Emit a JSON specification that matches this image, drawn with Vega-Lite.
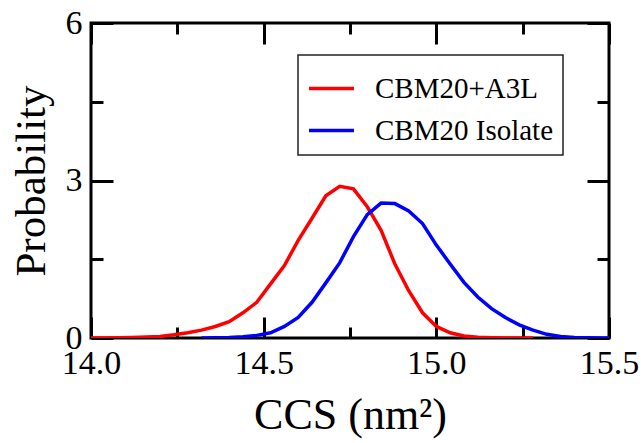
{
  "$schema": "https://vega.github.io/schema/vega-lite/v6.json",
  "width": 518,
  "height": 315,
  "autosize": {"type": "none"},
  "padding": {"left": 91, "top": 23, "right": 35, "bottom": 105},
  "background": "white",
  "config": {
    "view": {"stroke": "black", "strokeWidth": 3},
    "font": "Liberation Serif",
    "axis": {"domain": false, "grid": false, "tickColor": "black", "tickWidth": 3, "labelColor": "black", "titleColor": "black", "labelFont": "Liberation Serif", "titleFont": "Liberation Serif", "titleFontWeight": "normal", "labelFlush": false, "labelOverlap": false, "labelBound": false},
    "legend": {"labelFont": "Liberation Serif", "labelFontSize": 29, "labelColor": "black", "strokeColor": "#222222", "strokeWidth": 1.5, "fillColor": "white", "padding": 9, "cornerRadius": 0, "symbolType": "stroke", "symbolSize": 2025, "symbolStrokeWidth": 3.5, "labelOffset": 19, "rowPadding": 2, "labelLimit": 400}
  },
  "data": {"values": [
    {"x": 14.00, "p": 0, "series": "CBM20+A3L"},
    {"x": 14.04, "p": 0, "series": "CBM20+A3L"},
    {"x": 14.08, "p": 0.005, "series": "CBM20+A3L"},
    {"x": 14.12, "p": 0.01, "series": "CBM20+A3L"},
    {"x": 14.16, "p": 0.02, "series": "CBM20+A3L"},
    {"x": 14.20, "p": 0.03, "series": "CBM20+A3L"},
    {"x": 14.24, "p": 0.06, "series": "CBM20+A3L"},
    {"x": 14.28, "p": 0.10, "series": "CBM20+A3L"},
    {"x": 14.32, "p": 0.15, "series": "CBM20+A3L"},
    {"x": 14.36, "p": 0.22, "series": "CBM20+A3L"},
    {"x": 14.40, "p": 0.31, "series": "CBM20+A3L"},
    {"x": 14.44, "p": 0.48, "series": "CBM20+A3L"},
    {"x": 14.48, "p": 0.68, "series": "CBM20+A3L"},
    {"x": 14.52, "p": 1.03, "series": "CBM20+A3L"},
    {"x": 14.56, "p": 1.38, "series": "CBM20+A3L"},
    {"x": 14.60, "p": 1.86, "series": "CBM20+A3L"},
    {"x": 14.64, "p": 2.28, "series": "CBM20+A3L"},
    {"x": 14.68, "p": 2.71, "series": "CBM20+A3L"},
    {"x": 14.72, "p": 2.89, "series": "CBM20+A3L"},
    {"x": 14.76, "p": 2.84, "series": "CBM20+A3L"},
    {"x": 14.80, "p": 2.50, "series": "CBM20+A3L"},
    {"x": 14.84, "p": 2.05, "series": "CBM20+A3L"},
    {"x": 14.88, "p": 1.41, "series": "CBM20+A3L"},
    {"x": 14.92, "p": 0.90, "series": "CBM20+A3L"},
    {"x": 14.96, "p": 0.48, "series": "CBM20+A3L"},
    {"x": 15.00, "p": 0.22, "series": "CBM20+A3L"},
    {"x": 15.04, "p": 0.10, "series": "CBM20+A3L"},
    {"x": 15.08, "p": 0.04, "series": "CBM20+A3L"},
    {"x": 15.12, "p": 0.015, "series": "CBM20+A3L"},
    {"x": 15.16, "p": 0.005, "series": "CBM20+A3L"},
    {"x": 15.20, "p": 0, "series": "CBM20+A3L"},
    {"x": 15.24, "p": 0, "series": "CBM20+A3L"},
    {"x": 15.28, "p": 0, "series": "CBM20+A3L"},
    {"x": 14.32, "p": 0, "series": "CBM20 Isolate"},
    {"x": 14.36, "p": 0.005, "series": "CBM20 Isolate"},
    {"x": 14.40, "p": 0.01, "series": "CBM20 Isolate"},
    {"x": 14.44, "p": 0.025, "series": "CBM20 Isolate"},
    {"x": 14.48, "p": 0.05, "series": "CBM20 Isolate"},
    {"x": 14.52, "p": 0.10, "series": "CBM20 Isolate"},
    {"x": 14.56, "p": 0.22, "series": "CBM20 Isolate"},
    {"x": 14.60, "p": 0.39, "series": "CBM20 Isolate"},
    {"x": 14.64, "p": 0.68, "series": "CBM20 Isolate"},
    {"x": 14.68, "p": 1.05, "series": "CBM20 Isolate"},
    {"x": 14.72, "p": 1.43, "series": "CBM20 Isolate"},
    {"x": 14.76, "p": 1.93, "series": "CBM20 Isolate"},
    {"x": 14.80, "p": 2.35, "series": "CBM20 Isolate"},
    {"x": 14.84, "p": 2.57, "series": "CBM20 Isolate"},
    {"x": 14.88, "p": 2.56, "series": "CBM20 Isolate"},
    {"x": 14.92, "p": 2.42, "series": "CBM20 Isolate"},
    {"x": 14.96, "p": 2.18, "series": "CBM20 Isolate"},
    {"x": 15.00, "p": 1.77, "series": "CBM20 Isolate"},
    {"x": 15.04, "p": 1.41, "series": "CBM20 Isolate"},
    {"x": 15.08, "p": 1.06, "series": "CBM20 Isolate"},
    {"x": 15.12, "p": 0.78, "series": "CBM20 Isolate"},
    {"x": 15.16, "p": 0.56, "series": "CBM20 Isolate"},
    {"x": 15.20, "p": 0.39, "series": "CBM20 Isolate"},
    {"x": 15.24, "p": 0.25, "series": "CBM20 Isolate"},
    {"x": 15.28, "p": 0.15, "series": "CBM20 Isolate"},
    {"x": 15.32, "p": 0.07, "series": "CBM20 Isolate"},
    {"x": 15.36, "p": 0.03, "series": "CBM20 Isolate"},
    {"x": 15.40, "p": 0.01, "series": "CBM20 Isolate"},
    {"x": 15.44, "p": 0.005, "series": "CBM20 Isolate"},
    {"x": 15.48, "p": 0, "series": "CBM20 Isolate"},
    {"x": 15.52, "p": 0, "series": "CBM20 Isolate"}
  ]},
  "resolve": {"scale": {"x": "shared", "y": "shared"}, "axis": {"x": "independent", "y": "independent"}},
  "layer": [
    {
      "mark": {"type": "line", "strokeWidth": 3.5, "clip": true},
      "encoding": {
        "x": {"field": "x", "type": "quantitative", "scale": {"domain": [14, 15.5], "nice": false, "zero": false},
          "axis": {"orient": "bottom", "values": [14, 14.5, 15, 15.5], "format": ".1f", "labelFontSize": 34, "ticks": false, "labelPadding": 8, "title": "CCS (nm²)", "titleFontSize": 44, "titleBaseline": "alphabetic", "titleY": 90}},
        "y": {"field": "p", "type": "quantitative", "scale": {"domain": [0, 6], "nice": false},
          "axis": {"orient": "left", "values": [0, 3, 6], "format": "d", "labelFontSize": 34, "ticks": false, "labelPadding": 9, "title": "Probability", "titleFontSize": 43, "titleBaseline": "alphabetic", "titleX": -47}},
        "color": {"field": "series", "type": "nominal", "scale": {"domain": ["CBM20+A3L", "CBM20 Isolate"], "range": ["#ff0000", "#0000ff"]},
          "legend": {"title": null, "orient": "none", "legendX": 207, "legendY": 32}}
      }
    },
    {
      "mark": {"type": "point", "opacity": 0},
      "encoding": {
        "x": {"field": "x", "type": "quantitative", "axis": {"orient": "bottom", "values": [14, 14.5, 15, 15.5], "labels": false, "tickSize": 21, "offset": -21, "title": null}},
        "y": {"field": "p", "type": "quantitative", "axis": {"orient": "left", "values": [0, 3, 6], "labels": false, "tickSize": 22, "offset": -22, "title": null}}
      }
    },
    {
      "mark": {"type": "point", "opacity": 0},
      "encoding": {
        "x": {"field": "x", "type": "quantitative", "axis": {"orient": "bottom", "values": [14.25, 14.75, 15.25], "labels": false, "tickSize": 11, "offset": -11, "title": null}},
        "y": {"field": "p", "type": "quantitative", "axis": {"orient": "left", "values": [1.5, 4.5], "labels": false, "tickSize": 12, "offset": -12, "title": null}}
      }
    },
    {
      "mark": {"type": "point", "opacity": 0},
      "encoding": {
        "x": {"field": "x", "type": "quantitative", "axis": {"orient": "top", "values": [14, 14.5, 15, 15.5], "labels": false, "tickSize": 21, "offset": -21, "title": null}},
        "y": {"field": "p", "type": "quantitative", "axis": {"orient": "right", "values": [0, 3, 6], "labels": false, "tickSize": 22, "offset": -22, "title": null}}
      }
    },
    {
      "mark": {"type": "point", "opacity": 0},
      "encoding": {
        "x": {"field": "x", "type": "quantitative", "axis": {"orient": "top", "values": [14.25, 14.75, 15.25], "labels": false, "tickSize": 11, "offset": -11, "title": null}},
        "y": {"field": "p", "type": "quantitative", "axis": {"orient": "right", "values": [1.5, 4.5], "labels": false, "tickSize": 12, "offset": -12, "title": null}}
      }
    }
  ]
}
